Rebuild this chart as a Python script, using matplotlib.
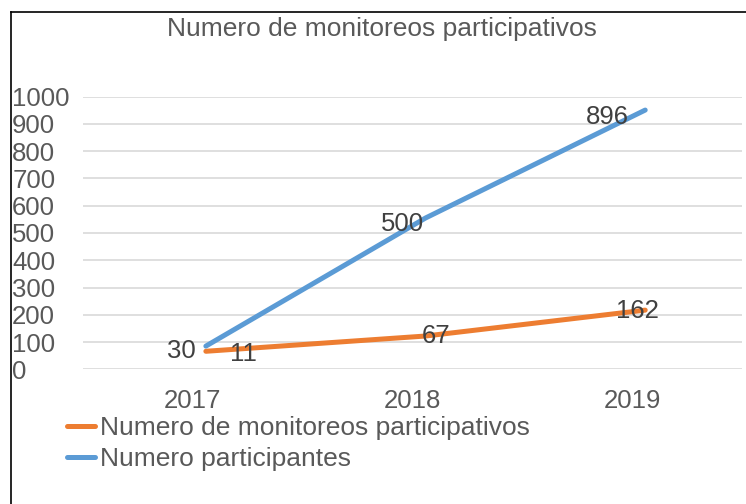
#!/usr/bin/env python3
"""
Grafico de lineas: monitoreos participativos y participantes (2017-2019)
"""
import matplotlib
matplotlib.use('Agg')
import matplotlib.pyplot as plt
from matplotlib.lines import Line2D
from matplotlib.transforms import offset_copy

# Datos
anos = ['2017', '2018', '2019']
monitoreos = [11, 67, 162]
participantes = [30, 500, 896]
y_ticks = list(range(0, 1001, 100))

GRIS_TEXTO = '#595959'
GRIS_ETIQUETA = '#404040'
NARANJA = '#ed7d31'
AZUL = '#5b9bd5'

plt.rcParams['font.family'] = ['Liberation Sans', 'DejaVu Sans']

fig = plt.figure(figsize=(7.46, 5.04), dpi=100)
ax = fig.add_axes([0.1113, 0.2673, 0.8834, 0.5408])

x = list(range(len(anos)))

# en el original la capa de series esta desplazada respecto a los ejes
trans = offset_copy(ax.transData, fig=fig, x=13, y=15, units='dots')

ax.plot(x, monitoreos, color=NARANJA, linewidth=3.6, transform=trans,
        solid_capstyle='round', clip_on=False, label='Numero de monitoreos participativos')
ax.plot(x, participantes, color=AZUL, linewidth=3.6, transform=trans,
        solid_capstyle='round', clip_on=False, label='Numero participantes')

# Etiquetas de datos (desplazamiento en pixeles)
desp_part = [(-24, -5), (-23, -6), (-38, -7)]
desp_mon = [(38, -3), (11, 0), (-8, -1)]
for i, v in enumerate(participantes):
    ax.annotate(str(v), xy=(i, v), xycoords=trans, xytext=desp_part[i],
                textcoords='offset pixels', ha='center', va='center',
                fontsize=18.5, color=GRIS_ETIQUETA)
for i, v in enumerate(monitoreos):
    ax.annotate(str(v), xy=(i, v), xycoords=trans, xytext=desp_mon[i],
                textcoords='offset pixels', ha='center', va='center',
                fontsize=18.5, color=GRIS_ETIQUETA)

ax.set_xlim(-0.5, len(anos) - 0.5)
ax.set_ylim(0, 1000)
ax.set_xticks(x)
ax.set_xticklabels(anos)
ax.set_yticks(y_ticks)
ax.set_yticklabels([str(t) for t in y_ticks], ha='left')

ax.tick_params(axis='y', length=0, pad=51, labelsize=18.5, labelcolor=GRIS_TEXTO)
ax.tick_params(axis='x', length=0, pad=14, labelsize=18.5, labelcolor=GRIS_TEXTO)

ax.grid(axis='y', color='#d9d9d9', linewidth=1.2)
ax.set_axisbelow(True)
for s in ax.spines.values():
    s.set_visible(False)

fig.text(382 / 746, 1 - 29 / 504, 'Numero de monitoreos participativos',
         ha='center', va='center', fontsize=19, color=GRIS_TEXTO)

leg = fig.legend(loc='upper left', bbox_to_anchor=(67 / 746, 1 - 416 / 504),
                 frameon=False, fontsize=19, handlelength=1.05,
                 handletextpad=0.2, labelspacing=0.26, borderaxespad=0,
                 borderpad=0)
for t in leg.get_texts():
    t.set_color(GRIS_TEXTO)

# marco superior e izquierdo
fig.add_artist(Line2D([11 / 746, 1.0], [1 - 11.7 / 504] * 2,
                      transform=fig.transFigure, color='black', linewidth=1.2))
fig.add_artist(Line2D([11 / 746] * 2, [0.0, 1 - 11.7 / 504],
                      transform=fig.transFigure, color='black', linewidth=1.2))

fig.savefig('out.png', dpi=100)
plt.close(fig)
